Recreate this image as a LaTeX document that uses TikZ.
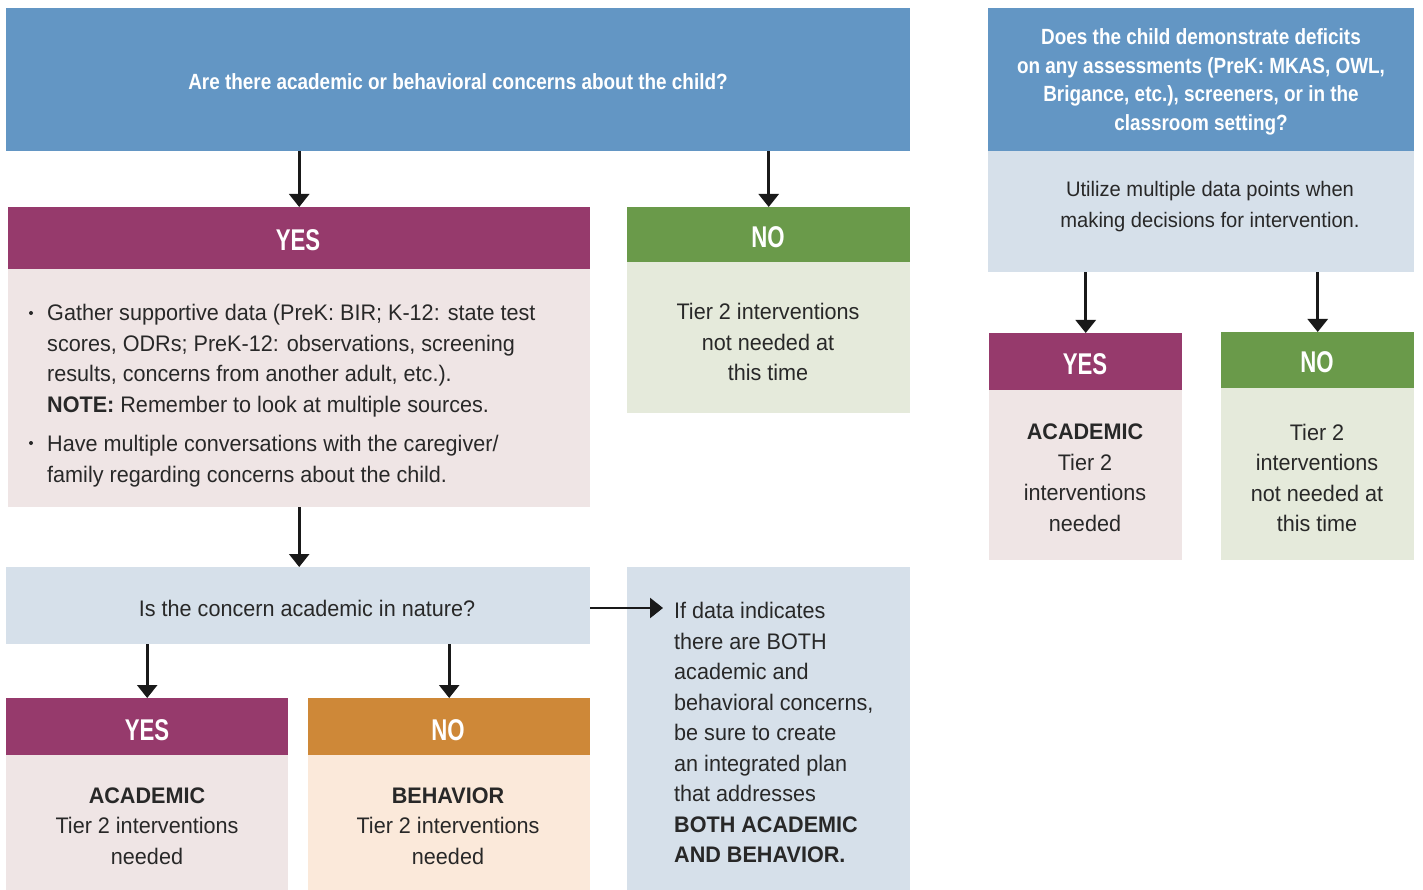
\documentclass[tikz,border=0pt]{standalone}
\usepackage{fontspec}
\setmainfont{Liberation Sans}[FakeStretch=0.96]
\newfontfamily\hdrfont{Liberation Sans}[FakeStretch=0.86]
\newfontfamily\titlefont{Liberation Sans}[FakeStretch=0.74]
\usetikzlibrary{arrows.meta,calc}
\definecolor{hdrblue}{RGB}{99,150,196}
\definecolor{purp}{RGB}{150,58,108}
\definecolor{grn}{RGB}{106,154,74}
\definecolor{orng}{RGB}{206,136,56}
\definecolor{pinkbg}{RGB}{239,229,229}
\definecolor{greenbg}{RGB}{229,234,219}
\definecolor{bluebg}{RGB}{214,224,234}
\definecolor{orangebg}{RGB}{251,233,218}
\definecolor{darktext}{RGB}{40,40,40}
\tikzset{
  panel/.style={draw=none, inner sep=0, anchor=north west},
  title/.style={text=white, inner sep=0, font=\titlefont\fontsize{30}{32}\selectfont\bfseries},
  qtext/.style={text=white, inner sep=0, align=center, font=\hdrfont\fontsize{22}{28.5}\selectfont\bfseries},
  btext/.style={text=darktext, inner sep=0, align=center, font=\fontsize{22.5}{30.5}\selectfont},
  ltext/.style={text=darktext, inner sep=0, align=left, font=\fontsize{22.5}{30.5}\selectfont},
  arr/.style={draw=black!90, line width=2.6pt, -{Triangle[width=20pt,length=13pt]}},
}
\newcommand{\pbox}[6]{% name, color, x1, y1, x2, y2
  \path let \p1=(#3,#4), \p2=(#5,#6) in
    node[panel, fill=#2, minimum width=\x2-\x1, minimum height=\y1-\y2] (#1) at (#3,#4) {};}
\begin{document}
\begin{tikzpicture}[x=1pt,y=-1pt]
\useasboundingbox[fill=white] (0,0) rectangle (1423,890);
% ---------- left top question ----------
\pbox{q1}{hdrblue}{6}{8}{910}{151}
\node[qtext] (q1t) at (458,82) {Are there academic or behavioral concerns about the child?};
% YES branch
\pbox{yesh}{purp}{8}{207}{590}{269}
\pbox{yesb}{pinkbg}{8}{269}{590}{507}
\node[title] (yest) at (298,240) {YES};
\node[circle, fill=darktext, inner sep=0, minimum size=4pt] (d1) at (31,313) {};
\node[circle, fill=darktext, inner sep=0, minimum size=4pt] (d2) at (31,443) {};
\node[ltext, anchor=north west] (b1) at (47,304) {Gather supportive data (PreK: BIR; K-12: state test\\scores, ODRs; PreK-12: observations, screening\\results, concerns from another adult, etc.).\\\textbf{NOTE:} Remember to look at multiple sources.};
\node[ltext, anchor=north west] (b2) at (47,435) {Have multiple conversations with the caregiver/\\family regarding concerns about the child.};
% NO branch
\pbox{noh}{grn}{627}{207}{910}{262}
\pbox{nob}{greenbg}{627}{262}{910}{413}
\node[title] (not) at (768,237) {NO};
\node[btext] (nobt) at (768,342) {Tier 2 interventions\\not needed at\\this time};
% concern question
\pbox{q2}{bluebg}{6}{567}{590}{644}
\node[btext] (q2t) at (307,608) {Is the concern academic in nature?};
% info box
\pbox{info}{bluebg}{627}{567}{910}{890}
\node[ltext, anchor=north west] (infot) at (674,602) {If data indicates\\there are BOTH\\academic and\\behavioral concerns,\\be sure to create\\an integrated plan\\that addresses\\\textbf{BOTH ACADEMIC}\\\textbf{AND BEHAVIOR.}};
\coordinate (infoarr) at (663,608);
% bottom YES / NO
\pbox{ayh}{purp}{6}{698}{288}{755}
\pbox{ayb}{pinkbg}{6}{755}{288}{890}
\node[title] (ayt) at (147,730) {YES};
\node[btext] (aybt) at (147,826) {\textbf{ACADEMIC}\\Tier 2 interventions\\needed};
\pbox{bnh}{orng}{308}{698}{590}{755}
\pbox{bnb}{orangebg}{308}{755}{590}{890}
\node[title] (bnt) at (448,730) {NO};
\node[btext] (bnbt) at (448,826) {\textbf{BEHAVIOR}\\Tier 2 interventions\\needed};
% ---------- right column ----------
\pbox{r1}{hdrblue}{988}{8}{1414}{151}
\node[qtext] (r1t) at (1201,82) {Does the child demonstrate deficits\\on any assessments (PreK: MKAS, OWL,\\Brigance, etc.), screeners, or in the\\classroom setting?};
\pbox{r2}{bluebg}{988}{151}{1414}{272}
\node[btext, font=\fontsize{21}{31}\selectfont] (r2t) at (1210,207) {Utilize multiple data points when\\making decisions for intervention.};
\pbox{ryh}{purp}{989}{333}{1182}{390}
\pbox{ryb}{pinkbg}{989}{390}{1182}{560}
\node[title] (ryt) at (1085,364) {YES};
\node[btext] (rybt) at (1085,478) {\textbf{ACADEMIC}\\Tier 2\\interventions\\needed};
\pbox{rnh}{grn}{1221}{332}{1414}{388}
\pbox{rnb}{greenbg}{1221}{388}{1414}{560}
\node[title] (rnt) at (1317,362) {NO};
\node[btext] (rnbt) at (1317,478) {Tier 2\\interventions\\not needed at\\this time};
% ---------- arrows ----------
\draw[arr] (q1.south -| yesh.north) -- (yesh.north);
\draw[arr] (q1.south -| noh.north) -- (noh.north);
\draw[arr] (yesb.south) -- (q2.north -| yesb.south);
\draw[arr] (infoarr -| q2.east) -- (infoarr);
\draw[arr] (q2.south -| ayh.north) -- (ayh.north);
\draw[arr] (q2.south -| bnh.north) -- (bnh.north);
\draw[arr] (r2.south -| ryh.north) -- (ryh.north);
\draw[arr] (r2.south -| rnh.north) -- (rnh.north);
\end{tikzpicture}
\end{document}
